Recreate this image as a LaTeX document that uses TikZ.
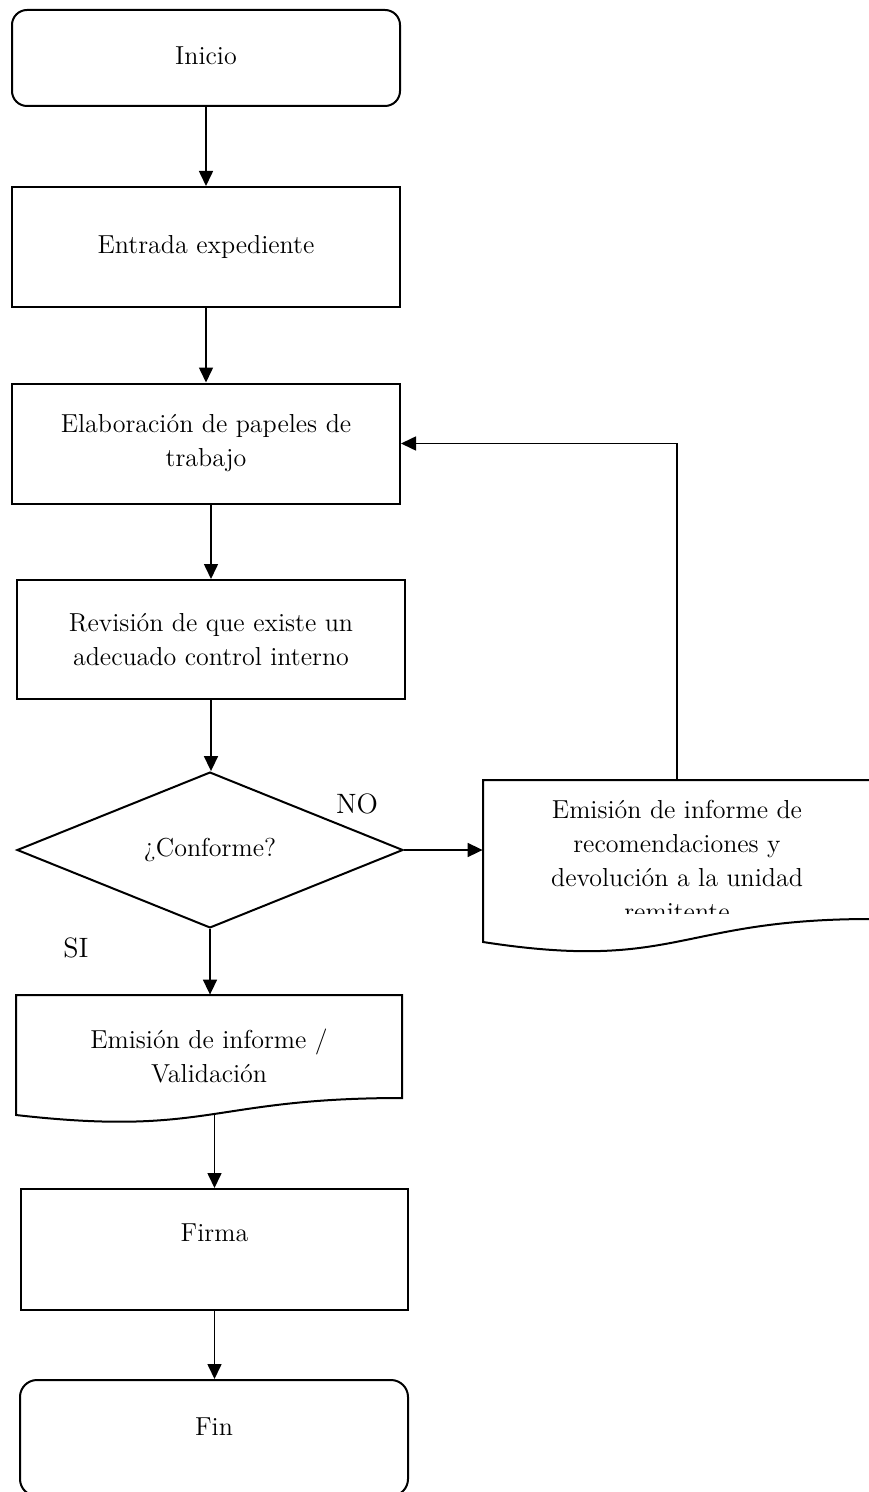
\documentclass[tikz,border=0pt]{standalone}
\usepackage{fontspec}
\usetikzlibrary{arrows.meta,shapes.geometric}
\newcommand\boxfont{\fontsize{13}{17}\selectfont}
\newcommand\tagfont{\fontsize{14}{17}\selectfont}
\begin{document}
\begin{tikzpicture}[x=0.5pt,y=-0.5pt,
  procbox/.style={draw, line width=1pt, minimum width=194pt, minimum height=60pt,
                  inner sep=0pt, align=center, font=\boxfont},
  termbox/.style={procbox, rounded corners=7.5pt},
  docline/.style={draw, line width=1pt},
  plain/.style={inner sep=0pt, align=center, font=\boxfont},
  decision/.style={draw, diamond, line width=1pt, inner sep=0pt, font=\boxfont},
  flow/.style={line width=0.8pt, -{Triangle[length=7.5pt,width=7pt]}},
  tag/.style={inner sep=0pt, font=\tagfont}]
\useasboundingbox (0,0) rectangle (868,1492);

% main column
\node[termbox, minimum height=48pt] (ini) at (206,58) {};
\node[plain] (iniT) at (206,56) {Inicio};
\node[procbox] (ent) at (206,247) {Entrada expediente};
\node[procbox] (ela) at (206,443.5) {Elaboración de papeles de\\trabajo};
\node[procbox, minimum height=59.5pt] (rev) at (211,639.5) {Revisión de que existe un\\adecuado control interno};
\node[decision, minimum width=193pt, minimum height=72pt] (conf) at (210,850) {¿Conforme?};

% document shape: report / validation
\node[inner sep=0pt, minimum width=193pt, minimum height=60pt] (emi) at (209,1055) {};
\draw[docline] (16,995) -- (402,995) -- (402,1098)
  .. controls (209,1098) and (209,1137) .. (16,1115) -- cycle;
\node[plain] (emiT) at (209,1056) {Emisión de informe /\\Validación};

\node[procbox, minimum width=193.5pt, minimum height=60.5pt] (firma) at (214.5,1249.5) {};
\node[plain] (firmaT) at (214.5,1233) {Firma};
\node[termbox, minimum height=58pt, rounded corners=8.5pt] (fin) at (214,1438) {};
\node[plain] (finT) at (214,1427) {Fin};

% document shape: recommendations, returned to sender
\node[inner sep=0pt, minimum width=194pt, minimum height=81pt] (devo) at (677,861) {};
\draw[docline] (483,780) -- (871,780) -- (871,919)
  .. controls (677,919) and (677,972) .. (483,942) -- cycle;
\begin{scope}
  \clip (483,780) rectangle (871,913);
  \node[plain] (devoT) at (677,860) {Emisión de informe de\\recomendaciones y\\devolución a la unidad\\remitente};
\end{scope}

% branch labels
\node[tag] (no) at (357,804) {NO};
\node[tag] (si) at (76,948) {SI};

% connectors
\draw[flow] (ini.south) -- (ent.north);
\draw[flow] (ent.south) -- (ela.north);
\draw[flow] (rev.north |- ela.south) -- (rev.north);
\draw[flow] (rev.south) -- (rev.south |- conf.north);
\draw[flow] (conf.east) -- (conf.east -| devo.west);
\draw[flow] (devo.north) |- (ela.east);
\draw[flow] (conf.south) -- (conf.south |- emi.north);
\draw[flow] (firma.north |- emi.south) -- (firma.north);
\draw[flow] (firma.south) -- (firma.south |- fin.north);
\end{tikzpicture}
\end{document}
